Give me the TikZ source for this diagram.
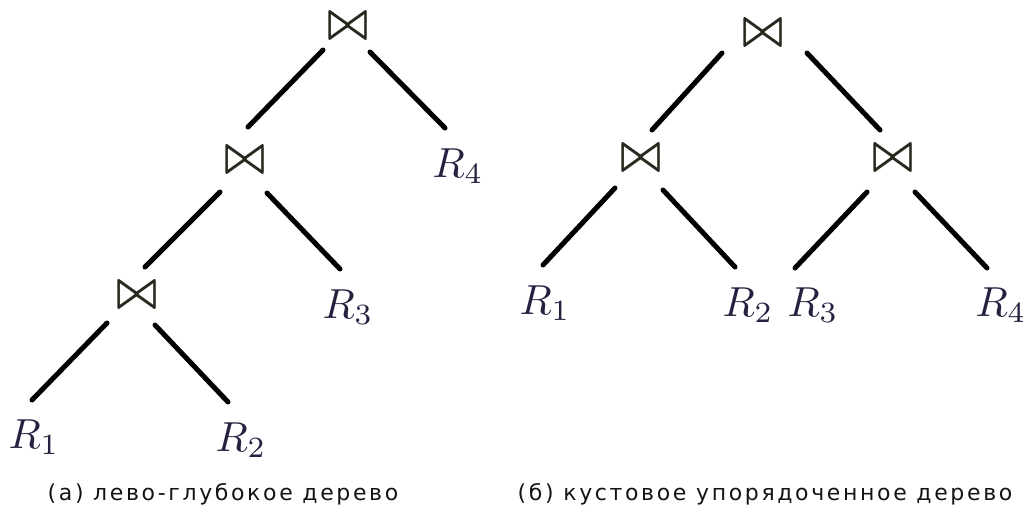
\documentclass[tikz,border=0pt]{standalone}
\usepackage{fontspec}
\usetikzlibrary{calc}
\newfontfamily\capfont[LetterSpace=12]{DejaVu Sans}
\definecolor{rcol}{RGB}{35,35,65}
\definecolor{jcol}{RGB}{40,40,30}
\definecolor{ccol}{RGB}{20,20,20}
\begin{document}
\begin{tikzpicture}[x=1pt,y=-1pt,
  lab/.style={text=rcol,inner sep=0pt},
  jn/.style={text=jcol,inner sep=0pt},
  edge/.style={line width=5pt,line cap=round,black},
  captxt/.style={font=\capfont\fontsize{22}{25}\selectfont,text=ccol,inner sep=0pt}]
\useasboundingbox (0,0) rectangle (1035,509);
% left tree
\node[jn] (j1) at (348,26) {\scalebox{4.2}[5.2]{\boldmath$\bowtie$}};
\node[jn] (j2) at (245,160) {\scalebox{4.2}[5.2]{\boldmath$\bowtie$}};
\node[jn] (j3) at (137,295) {\scalebox{4.2}[5.2]{\boldmath$\bowtie$}};
\node[lab] (aR4) at (458,166) {\scalebox{4.2}{$R_4$}};
\node[lab] (aR3) at (348,307) {\scalebox{4.2}{$R_3$}};
\node[lab] (aR1) at (34,437) {\scalebox{4.2}{$R_1$}};
\node[lab] (aR2) at (241,440) {\scalebox{4.2}{$R_2$}};
\draw[edge] ($(j1)+(-25,24)$) -- ($(j2)+(3,-33)$);
\draw[edge] ($(j1)+(22,26)$) -- ($(aR4)+(-13,-38)$);
\draw[edge] ($(j2)+(-25,32)$) -- ($(j3)+(8,-28)$);
\draw[edge] ($(j2)+(22,33)$) -- ($(aR3)+(-8,-38)$);
\draw[edge] ($(j3)+(-30,28)$) -- ($(aR1)+(-2,-37)$);
\draw[edge] ($(j3)+(18,30)$) -- ($(aR2)+(-13,-38)$);
\node[captxt] (ca) at (223,494) {(а) лево-глубокое дерево};
% right tree
\node[jn] (t) at (763,33) {\scalebox{4.2}[5.2]{\boldmath$\bowtie$}};
\node[jn] (a) at (641,158) {\scalebox{4.2}[5.2]{\boldmath$\bowtie$}};
\node[jn] (b) at (893,158) {\scalebox{4.2}[5.2]{\boldmath$\bowtie$}};
\node[lab] (bR1) at (545,303) {\scalebox{4.2}{$R_1$}};
\node[lab] (bR2) at (748,305) {\scalebox{4.2}{$R_2$}};
\node[lab] (bR3) at (813,305) {\scalebox{4.2}{$R_3$}};
\node[lab] (bR4) at (1001,305) {\scalebox{4.2}{$R_4$}};
\draw[edge] ($(t)+(-41,20)$) -- ($(a)+(11,-28)$);
\draw[edge] ($(t)+(44,20)$) -- ($(b)+(-13,-28)$);
\draw[edge] ($(a)+(-26,30)$) -- ($(bR1)+(-2,-38)$);
\draw[edge] ($(a)+(22,32)$) -- ($(bR2)+(-13,-38)$);
\draw[edge] ($(b)+(-26,34)$) -- ($(bR3)+(-18,-37)$);
\draw[edge] ($(b)+(22,34)$) -- ($(bR4)+(-14,-37)$);
\node[captxt] (cb) at (765,494) {(б) кустовое упорядоченное дерево};
\end{tikzpicture}
\end{document}
